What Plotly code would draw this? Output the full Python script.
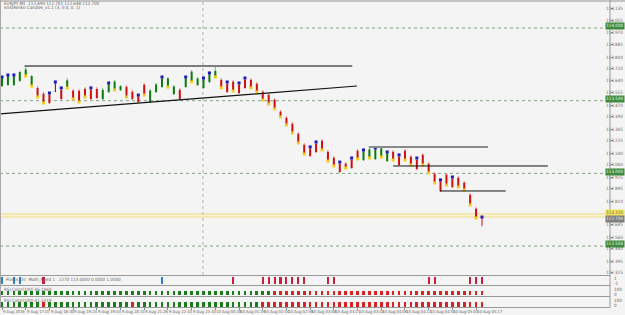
import plotly.graph_objects as go

W, H = 625, 315

# ---------------- data ----------------
bars = list(range(82))
high = [113.663, 113.677, 113.677, 113.705, 113.739, 113.677, 113.601, 113.560, 113.553, 113.629,
        113.588, 113.656, 113.581, 113.581, 113.594, 113.588, 113.594, 113.588, 113.622, 113.643,
        113.608, 113.608, 113.574, 113.539, 113.622, 113.581, 113.622, 113.663, 113.663, 113.608,
        113.588, 113.663, 113.711, 113.663, 113.656, 113.691, 113.732, 113.656, 113.629, 113.643,
        113.622, 113.656, 113.656, 113.629, 113.574, 113.553, 113.519, 113.436, 113.395, 113.354,
        113.285, 113.209, 113.182, 113.216, 113.237, 113.161, 113.120, 113.078, 113.078, 113.106,
        113.168, 113.161, 113.175, 113.175, 113.182, 113.147, 113.161, 113.127, 113.168, 113.127,
        113.106, 113.140, 113.078, 113.010, 112.955, 113.003, 112.975, 112.982, 112.948, 112.865,
        112.769, 112.700]
low = [113.594, 113.601, 113.601, 113.629, 113.670, 113.601, 113.526, 113.484, 113.477, 113.560,
       113.505, 113.588, 113.512, 113.491, 113.526, 113.505, 113.512, 113.505, 113.553, 113.574,
       113.567, 113.526, 113.505, 113.484, 113.539, 113.484, 113.553, 113.588, 113.594, 113.539,
       113.505, 113.588, 113.629, 113.601, 113.581, 113.622, 113.663, 113.588, 113.553, 113.567,
       113.546, 113.581, 113.588, 113.560, 113.505, 113.477, 113.443, 113.388, 113.333, 113.278,
       113.209, 113.133, 113.113, 113.140, 113.161, 113.085, 113.051, 113.003, 113.037, 113.030,
       113.099, 113.085, 113.106, 113.092, 113.113, 113.078, 113.092, 113.051, 113.092, 113.058,
       113.023, 113.058, 113.003, 112.934, 112.872, 112.920, 112.899, 112.906, 112.886, 112.783,
       112.693, 112.631]
open_ = [113.600, 113.608, 113.607, 113.636, 113.676, 113.608, 113.588, 113.548, 113.541, 113.563,
         113.575, 113.594, 113.570, 113.568, 113.582, 113.576, 113.581, 113.511, 113.559, 113.580,
         113.572, 113.596, 113.562, 113.530, 113.610, 113.490, 113.559, 113.594, 113.600, 113.545,
         113.575, 113.594, 113.635, 113.607, 113.587, 113.628, 113.669, 113.644, 113.617, 113.631,
         113.610, 113.644, 113.644, 113.617, 113.562, 113.541, 113.507, 113.425, 113.383, 113.342,
         113.273, 113.197, 113.170, 113.204, 113.225, 113.149, 113.108, 113.066, 113.068, 113.094,
         113.156, 113.091, 113.112, 113.098, 113.119, 113.084, 113.149, 113.115, 113.156, 113.115,
         113.094, 113.128, 113.066, 112.998, 112.943, 112.991, 112.963, 112.970, 112.936, 112.853,
         112.757, 112.698]
close = [113.655, 113.670, 113.668, 113.697, 113.715, 113.670, 113.531, 113.490, 113.483, 113.561,
         113.511, 113.640, 113.518, 113.498, 113.532, 113.511, 113.518, 113.575, 113.612, 113.632,
         113.600, 113.532, 113.511, 113.490, 113.545, 113.570, 113.612, 113.653, 113.653, 113.598,
         113.511, 113.653, 113.700, 113.653, 113.646, 113.681, 113.705, 113.594, 113.559, 113.573,
         113.552, 113.587, 113.594, 113.566, 113.511, 113.483, 113.449, 113.394, 113.339, 113.284,
         113.215, 113.139, 113.119, 113.146, 113.167, 113.091, 113.057, 113.009, 113.043, 113.036,
         113.105, 113.151, 113.165, 113.165, 113.172, 113.137, 113.098, 113.057, 113.098, 113.064,
         113.029, 113.064, 113.009, 112.940, 112.878, 112.926, 112.905, 112.912, 112.892, 112.789,
         112.699, 112.640]
# b = blue dot on top, y = yellow dot at bottom, - = none
dots = list("bbb-yyyybb" "byyyyb--by" "-y-by--by-" "-by-bbyyby" "bbyyyyyyyy"
            "yybbyyybyb" "ybybybybyy" "byyybybyyy" "yb")

price_ticks = [114.135, 114.055, 113.970, 113.885, 113.800, 113.720, 113.640, 113.555,
               113.470, 113.390, 113.305, 113.225, 113.140, 113.060, 112.975, 112.895,
               112.810, 112.645, 112.560, 112.480, 112.395, 112.315]
round_levels = [114.000, 113.500, 113.000, 112.500]
bid_ask = [112.721, 112.700]

top_line = (3.8, 59.1, 113.739)
trend_line = (-0.34, 113.409, 59.9, 113.601)
h_lines = [(61.9, 82.0, 113.182, "#8a8a8a", 2), (66.0, 92.1, 113.051, "#111111", 1),
           (73.9, 85.0, 112.879, "#111111", 1)]
separator_bar = 33.9

pivot_red = [7, 39, 44, 45, 46, 47, 48, 49, 50, 51, 55, 56, 72, 73, 79, 80, 81]
pivot_blue = [0, 2, 3, 27]
rsi1_red_from = 46
rsi2_red = [7, 22] + list(range(44, 82))

time_bars = [0, 4, 8, 12, 16, 20, 24, 28, 32, 36, 40, 44, 48, 52, 56, 60, 64, 68, 72, 76, 80]
time_labels = ["9 Aug 2016", "9 Aug 17:07", "9 Aug 18:30", "9 Aug 19:24", "9 Aug 19:53",
               "9 Aug 20:31", "9 Aug 21:26", "9 Aug 22:43", "9 Aug 23:44", "10 Aug 00:38",
               "10 Aug 01:39", "10 Aug 02:40", "10 Aug 02:56", "10 Aug 03:08", "10 Aug 03:21",
               "10 Aug 03:45", "10 Aug 04:06", "10 Aug 04:13", "10 Aug 04:55", "10 Aug 05:03",
               "10 Aug 05:17"]

# ---------------- layout helpers ----------------
FONT = "Liberation Sans Narrow, DejaVu Sans Condensed, Liberation Sans"
BG = "#f4f4f4"
XR = 610 / W
RX = 1 - 0.3 / W
BOX_LIFT = 0.011  # price labels sit slightly above their lines


def dom(top_px, bot_px):
    return [1 - bot_px / H, 1 - top_px / H]


def py(px):
    return 1 - px / H


fig = go.Figure()


def segs(idx, a, b):
    xs, ys = [], []
    for i in idx:
        xs += [bars[i], bars[i], None]
        ys += [a[i], b[i], None]
    return xs, ys


up = [i for i in bars if close[i] - open_[i] > 0.003 and i != 81]
dn = [i for i in bars if open_[i] - close[i] > 0.003 and i != 81]
dj = [i for i in bars if abs(close[i] - open_[i]) <= 0.003]
cur = [81]

for idx, wc, bc in [(up, "#7dbb7d", "#0d7a0d"), (dn, "#e58a8a", "#cc1111"),
                    (dj, "#222244", "#1a1a6e"), (cur, "#f0a8b4", "#e37d8f")]:
    xs, ys = segs(idx, high, low)
    fig.add_trace(go.Scatter(x=xs, y=ys, mode="lines", line=dict(color=wc, width=1),
                             hoverinfo="skip"))
    xs, ys = segs(idx, open_, close)
    fig.add_trace(go.Scatter(x=xs, y=ys, mode="lines", line=dict(color=bc, width=2),
                             hoverinfo="skip"))

bi = [i for i in bars if dots[i] == "b"]
yi = [i for i in bars if dots[i] == "y"]
fig.add_trace(go.Scatter(x=bi, y=[high[i] for i in bi], mode="markers",
                         marker=dict(symbol="square", size=3, color="#1c1cb4"), hoverinfo="skip"))
fig.add_trace(go.Scatter(x=yi, y=[low[i] for i in yi], mode="markers",
                         marker=dict(symbol="square", size=3, color="#f2cc1a"), hoverinfo="skip"))

# sub-panel 1 (pivots)
fig.add_trace(go.Bar(x=pivot_red, y=[0.85] * len(pivot_red), base=0.08, width=0.35,
                     marker=dict(color="#c81e3c", line=dict(width=0)), yaxis="y2"))
fig.add_trace(go.Bar(x=pivot_blue, y=[0.85] * len(pivot_blue), base=0.08, width=0.35,
                     marker=dict(color="#2a7fd4", line=dict(width=0)), yaxis="y2"))
# sub-panel 2
c2 = ["#d42424" if i >= rsi1_red_from else "#1d7a1d" for i in bars]
fig.add_trace(go.Bar(x=bars, y=[4.3] * 82, base=0.7, width=0.45,
                     marker=dict(color=c2, line=dict(width=0)), yaxis="y3"))
# sub-panel 3
c3 = ["#d42424" if i in rsi2_red else "#1d7a1d" for i in bars]
fig.add_trace(go.Bar(x=bars, y=[5.0] * 82, base=0.3, width=0.45,
                     marker=dict(color=c3, line=dict(width=0)), yaxis="y4"))

shapes = []
# yellow bid/ask band
shapes.append(dict(type="rect", xref="x domain", yref="y", x0=0, x1=1, y0=bid_ask[1], y1=bid_ask[0],
                   fillcolor="#fbf3cf", line=dict(width=0), layer="below"))
for v in bid_ask:
    shapes.append(dict(type="line", xref="x domain", yref="y", x0=0, x1=1, y0=v, y1=v,
                       line=dict(color="#efdc8a", width=1), layer="below"))
for v in round_levels:
    shapes.append(dict(type="line", xref="x domain", yref="y", x0=0, x1=1, y0=v, y1=v,
                       line=dict(color="#86a386", width=1, dash="dot"), layer="below"))
shapes.append(dict(type="line", xref="x", yref="paper", x0=separator_bar, x1=separator_bar,
                   y0=py(275), y1=py(2), line=dict(color="#b5b5b5", width=1, dash="dot"),
                   layer="below"))
shapes.append(dict(type="line", xref="x", yref="y", x0=top_line[0], x1=top_line[1],
                   y0=top_line[2], y1=top_line[2], line=dict(color="#555555", width=1.6)))
shapes.append(dict(type="line", xref="x", yref="y", x0=trend_line[0], y0=trend_line[1],
                   x1=trend_line[2], y1=trend_line[3], line=dict(color="#111111", width=1.2)))
for x0, x1, v, col, wd in h_lines:
    shapes.append(dict(type="line", xref="x", yref="y", x0=x0, x1=x1, y0=v, y1=v,
                       line=dict(color=col, width=wd)))
# frames
for ypx in [1, 275.5, 285.5, 296.5, 307.5]:
    shapes.append(dict(type="line", xref="paper", yref="paper", x0=0, x1=XR if ypx > 2 else 1,
                       y0=py(ypx), y1=py(ypx),
                       line=dict(color="#9a9a9a" if ypx > 2 else "#c4c4c4", width=1 if ypx > 2 else 2)))
shapes.append(dict(type="line", xref="paper", yref="paper", x0=XR, x1=XR, y0=py(307.5), y1=py(0),
                   line=dict(color="#9a9a9a", width=1)))
shapes.append(dict(type="line", xref="paper", yref="paper", x0=0.5 / W, x1=0.5 / W, y0=py(307.5),
                   y1=py(0), line=dict(color="#a8a8a8", width=1)))

ann = []
small = dict(family=FONT, size=4.5, color="#666666")
ann.append(dict(xref="paper", yref="paper", x=2 / W, y=py(3.5), xanchor="left", yanchor="middle",
                text="EURJPY,M1  112.690 112.701 112.648 112.700", showarrow=False, font=small))
ann.append(dict(xref="paper", yref="paper", x=2 / W, y=py(8), xanchor="left", yanchor="middle",
                text="smGRenko Candles_v1.1 (3, 0.0, 0, 1)", showarrow=False, font=small))
ann.append(dict(xref="paper", yref="paper", x=4 / W, y=py(279.5), xanchor="left", yanchor="middle",
                text="Pivots_Dir  Math_Fixed 1   2270 113.0000 0.0000 1.0000", showarrow=False,
                font=small))
ann.append(dict(xref="paper", yref="paper", x=2 / W, y=py(289), xanchor="left", yanchor="middle",
                text="RSI Color(100) 46.1860", showarrow=False, font=small))
ann.append(dict(xref="paper", yref="paper", x=2 / W, y=py(300), xanchor="left", yanchor="middle",
                text="RSI Color(100) 41.3319", showarrow=False, font=small))
for txt, ypx in [("1", 278), ("-1", 283), ("100", 289), ("0", 294), ("100", 300), ("0", 305)]:
    ann.append(dict(xref="paper", yref="paper", x=XR + 2 / W, y=py(ypx), xanchor="left",
                    yanchor="middle", text=txt, showarrow=False, font=small))
# price scale labels (right-aligned inside the window)
for v in price_ticks:
    ann.append(dict(xref="paper", yref="y", x=RX, y=v, xanchor="right", yanchor="middle",
                    text=f"{v:.3f}", showarrow=False,
                    font=dict(family=FONT, size=4.5, color="#6a6a6a")))
for v in round_levels:
    ann.append(dict(xref="paper", yref="y", x=RX, y=v + BOX_LIFT, xanchor="right",
                    yanchor="middle", text=f"{v:.3f}", showarrow=False, bgcolor="#3d8a3d",
                    borderpad=0.3, font=dict(family=FONT, size=4.5, color="#eaffea")))
ann.append(dict(xref="paper", yref="y", x=RX, y=bid_ask[0] + 0.006, xanchor="right",
                yanchor="middle", text=f"{bid_ask[0]:.3f}", showarrow=False, bgcolor="#f1e05a",
                borderpad=0.3, font=dict(family=FONT, size=4.5, color="#555555")))
ann.append(dict(xref="paper", yref="y", x=RX, y=bid_ask[1] - 0.012, xanchor="right",
                yanchor="middle", text=f"{bid_ask[1]:.3f}", showarrow=False, bgcolor="#7d7d7d",
                borderpad=0.3, font=dict(family=FONT, size=4.5, color="#f0f0f0")))
for b, t in zip(time_bars, time_labels):
    ann.append(dict(xref="x", yref="paper", x=b - 0.15, y=py(311.5), xanchor="left",
                    yanchor="middle", text=t, showarrow=False,
                    font=dict(family=FONT, size=4.2, color="#666666")))

fig.update_layout(
    width=W, height=H, margin=dict(l=0, r=0, t=0, b=0),
    paper_bgcolor=BG, plot_bgcolor=BG, showlegend=False, hovermode=False,
    template="none", barmode="overlay", bargap=0,
    shapes=shapes, annotations=ann,
    xaxis=dict(domain=[0, XR], range=[-0.34, 102.6], anchor="y4", showgrid=False,
               zeroline=False, showline=False, showticklabels=False, ticks="outside",
               ticklen=2, tickcolor="#888888", tickvals=time_bars, automargin=False),
    yaxis=dict(domain=dom(2, 275), range=[112.301, 114.179], anchor="x", side="right",
               showgrid=False, zeroline=False, showline=False, ticks="outside", ticklen=1.5,
               tickcolor="#888888", tickvals=price_ticks, showticklabels=False,
               automargin=False),
    yaxis2=dict(domain=dom(276, 285), range=[0, 1], anchor="x", visible=False),
    yaxis3=dict(domain=dom(286, 296), range=[0, 10], anchor="x", visible=False),
    yaxis4=dict(domain=dom(297, 307), range=[0, 10], anchor="x", visible=False),
)

fig.write_html("out.html")
